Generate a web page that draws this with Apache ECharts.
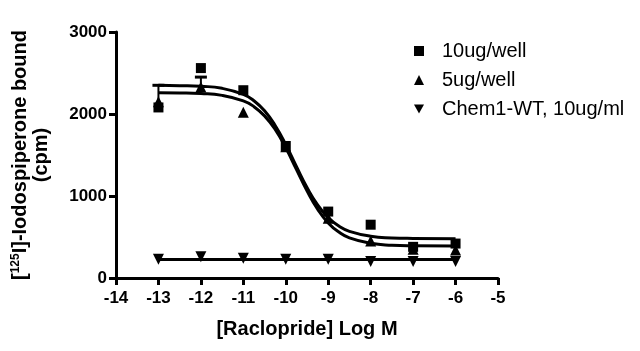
<!DOCTYPE html>
<html>
<head>
<meta charset="utf-8">
<script src="https://cdn.jsdelivr.net/npm/echarts@6/dist/echarts.min.js"></script>
<style>
  html, body { margin: 0; padding: 0; background: #fff; }
  #chart { width: 640px; height: 351px; }
</style>
</head>
<body>
<div id="chart"></div>
<script>
 // log concentration of raclopride
 var logDose = [-13, -12, -11, -10, -9, -8, -7, -6];
 var well10 = [2080, 2560, 2290, 1610, 810, 650, 380, 420];
 var well5 = [2150, 2330, 2020, 1600, 730, 450, 350, 340];
 var chemWT = [230, 260, 240, 230, 230, 200, 200, 200];

 // fitted curves
 var fitX = [-13, -12.5, -12, -11.5, -11, -10.75, -10.5, -10.25, -10, -9.75, -9.5, -9.25, -9, -8.75, -8.5, -8, -7.5, -7, -6];
 var fit10 = [2350, 2346, 2338, 2313, 2239, 2162, 2039, 1860, 1627, 1361, 1104, 891, 736, 633, 569, 509, 489, 483, 480];
 var fit5 = [2259, 2257, 2250, 2227, 2160, 2090, 1977, 1811, 1587, 1325, 1063, 839, 672, 560, 489, 423, 400, 393, 390];
 var fitWTX = [-13, -6];
 var fitWT = [225, 225];

 // error bars [x, low, high]
 var errBars = [[-13, 2150, 2350], [-12, 2330, 2450]];

 var xTicks = [-14, -5];
 var yMax = 3000;

 function pairs(xs, ys) {
     var out = [];
     for (var i = 0; i < xs.length; i++) out.push([xs[i], ys[i]]);
     return out;
 }

 var font = '"Liberation Sans", Arial, sans-serif';
 var myChart = echarts.init(document.getElementById('chart'));

 var curveStyle = { color: '#000', width: 3 };

 option = {
     animation: false,
     backgroundColor: '#fff',
     grid: { left: 116, right: 142, top: 32, bottom: 73 },
     legend: {
         orient: 'vertical',
         left: 409,
         top: 36,
         itemWidth: 10,
         itemHeight: 10,
         itemGap: 9,
         data: [
             { name: '10ug/well', icon: 'rect' },
             { name: '5ug/well', icon: 'triangle' },
             { name: 'Chem1-WT, 10ug/ml', icon: 'path://M0,0L10,0L5,9Z' }
         ],
         itemStyle: { opacity: 1 },
         textStyle: { fontFamily: font, fontSize: 20, color: '#000', padding: [0, 0, 0, 13] }
     },
     xAxis: {
         type: 'value',
         min: xTicks[0],
         max: xTicks[1],
         interval: 1,
         name: '[Raclopride] Log M',
         nameLocation: 'middle',
         nameGap: 41,
         nameTextStyle: { fontFamily: font, fontSize: 20, fontWeight: 'bold', color: '#000' },
         axisLine: { lineStyle: { color: '#000', width: 3 } },
         axisTick: { length: 7, lineStyle: { color: '#000', width: 3 } },
         axisLabel: { fontFamily: font, fontSize: 17, fontWeight: 'bold', color: '#000', margin: 12 },
         splitLine: { show: false }
     },
     yAxis: {
         type: 'value',
         min: 0,
         max: yMax,
         interval: 1000,
         name: '[{sup|125}I]-Iodospiperone bound\n(cpm)',
         nameLocation: 'middle',
         nameGap: 64,
         nameTextStyle: {
             fontFamily: font, fontSize: 20, fontWeight: 'bold', color: '#000', lineHeight: 21,
             rich: { sup: { fontFamily: font, fontSize: 12, fontWeight: 'bold', color: '#000', verticalAlign: 'top', padding: [0, 0, 7, 0] } }
         },
         axisLine: { show: true, lineStyle: { color: '#000', width: 3 } },
         axisTick: { show: true, length: 7, lineStyle: { color: '#000', width: 3 } },
         axisLabel: {
             fontFamily: font, fontSize: 17, fontWeight: 'bold', color: '#000', margin: 9,
             formatter: function(v) { return String(v); }
         },
         splitLine: { show: false }
     },
     series: [{
         type: 'line',
         data: pairs(fitX, fit10),
         smooth: true,
         showSymbol: false,
         lineStyle: curveStyle,
         silent: true
     }, {
         type: 'line',
         data: pairs(fitX, fit5),
         smooth: true,
         showSymbol: false,
         lineStyle: curveStyle,
         silent: true
     }, {
         type: 'line',
         data: pairs(fitWTX, fitWT),
         showSymbol: false,
         lineStyle: curveStyle,
         silent: true
     }, {
         type: 'custom',
         data: errBars,
         renderItem: function(params, api) {
             var lo = api.coord([api.value(0), api.value(1)]);
             var hi = api.coord([api.value(0), api.value(2)]);
             return {
                 type: 'group',
                 children: [{
                     type: 'line',
                     shape: { x1: lo[0], y1: lo[1], x2: hi[0], y2: hi[1] },
                     style: { stroke: '#000', lineWidth: 2 }
                 }, {
                     type: 'line',
                     shape: { x1: hi[0] - 6, y1: hi[1], x2: hi[0] + 6, y2: hi[1] },
                     style: { stroke: '#000', lineWidth: 3 }
                 }]
             };
         }
     }, {
         name: '10ug/well',
         type: 'scatter',
         symbol: 'rect',
         symbolSize: 10,
         itemStyle: { color: '#000', opacity: 1 },
         data: pairs(logDose, well10)
     }, {
         name: '5ug/well',
         type: 'scatter',
         symbol: 'triangle',
         symbolSize: 11,
         itemStyle: { color: '#000', opacity: 1 },
         data: pairs(logDose, well5)
     }, {
         name: 'Chem1-WT, 10ug/ml',
         type: 'scatter',
         symbol: 'triangle',
         symbolRotate: 180,
         symbolSize: 11,
         itemStyle: { color: '#000', opacity: 1 },
         data: pairs(logDose, chemWT)
     }]
 };
 myChart.setOption(option);
</script>
</body>
</html>
